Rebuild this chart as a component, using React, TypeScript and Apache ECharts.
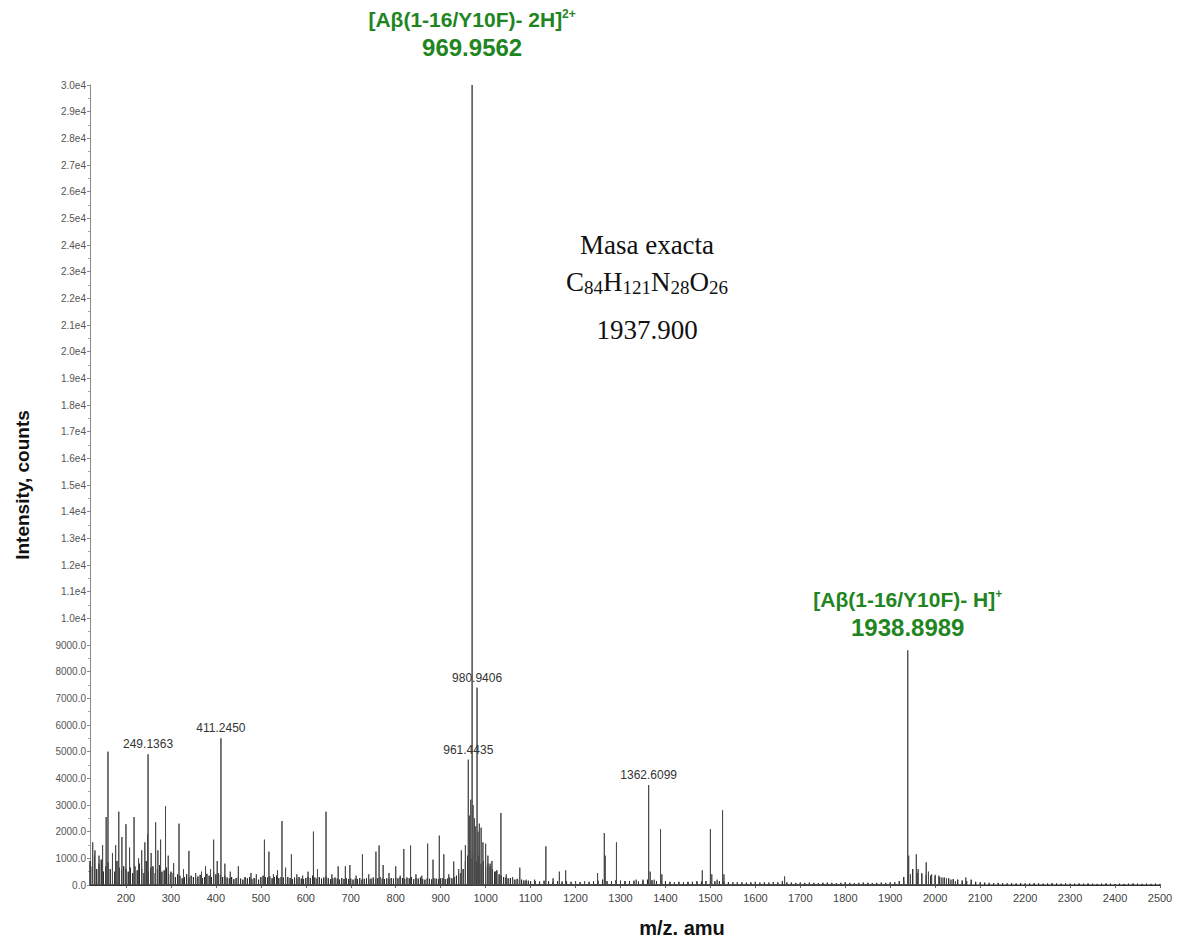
import React, { useEffect, useRef } from "react";
import * as echarts from "echarts";

// m/z tick labels on the horizontal axis
const mzTicks = [
  200, 300, 400, 500, 600, 700, 800, 900, 1000, 1100, 1200, 1300, 1400,
  1500, 1600, 1700, 1800, 1900, 2000, 2100, 2200, 2300, 2400, 2500,
];

// Intensity axis range (counts)
const intensityMax = 30000;
const intensityStep = 1000;

// Resolved peaks, [m/z, counts]
const lowMassPeaks: [number, number][] = [
  [126, 1600], [131, 1300], [140, 1100], [148, 1500], [156, 2550], [160, 5000],
  [170, 1200], [177, 1500], [184, 2750], [191, 1800], [200, 2280], [208, 1400],
  [218, 2550], [228, 1000], [235, 1300], [242, 1600], [248, 1900], [256, 1200],
  [266, 2350], [271, 1300], [277, 1700], [288, 2950], [294, 1100], [306, 820],
  [318, 2300], [328, 600], [340, 1280], [355, 450], [368, 500], [377, 700],
  [388, 600], [395, 1700], [403, 900], [420, 800], [432, 500], [450, 700],
  [465, 300], [478, 450], [490, 400], [508, 1700], [518, 1250], [528, 400],
  [537, 550], [547, 2400], [555, 650], [568, 1150], [580, 400], [593, 350],
  [605, 500], [617, 2000], [626, 600], [645, 2750], [658, 400], [672, 700],
  [688, 700], [698, 750], [712, 350], [726, 1150], [740, 400], [756, 1250],
  [763, 1480], [772, 750], [785, 450], [800, 700], [810, 350], [818, 1350],
  [833, 1480], [845, 400], [858, 350], [871, 1550], [883, 950], [897, 1850],
  [907, 1150], [918, 400], [929, 880], [940, 600], [946, 1300],
];

const clusterPeaks: [number, number][] = [
  [955, 1500], [964, 2600], [967, 3200], [972, 3000], [975, 2500], [978, 2200],
  [983, 2000], [986, 2300], [990, 2150], [994, 1600], [1000, 1550], [1005, 1100],
  [1010, 800], [1014, 900], [1022, 500], [1034, 2700], [1046, 400], [1060, 300],
  [1076, 650], [1090, 200], [1109, 200], [1134, 1450], [1150, 250], [1164, 500],
  [1178, 550], [1200, 150], [1220, 120], [1249, 450],
];

const highMassPeaks: [number, number][] = [
  [1264, 1950], [1266, 1100], [1291, 1600], [1310, 150], [1335, 200], [1350, 200],
  [1366, 500], [1375, 200], [1389, 2100], [1392, 400], [1420, 100], [1450, 120],
  [1470, 150], [1482, 550], [1500, 2100], [1503, 400], [1515, 200], [1527, 2800],
  [1530, 400], [1560, 100], [1600, 120], [1640, 100], [1665, 320], [1700, 80],
  [1750, 80], [1800, 100], [1850, 80], [1900, 90], [1930, 150], [1941, 1100],
  [1945, 400], [1958, 1150], [1962, 600], [1970, 450], [1980, 850], [1985, 500],
  [1992, 400], [2000, 380], [2008, 350], [2015, 280], [2025, 250], [2035, 200],
  [2045, 150], [2068, 280],
];

// Peaks annotated with their m/z
const labelledMz = [249.1363, 411.245, 961.4435, 980.9406, 1362.6099];
const labelledCounts = [4900, 5500, 4700, 7400, 3750];

// Assigned molecular ions
const ionMz = [969.9562, 1938.8989];
const ionCounts = [30000, 8800];
const ionNames = ["[Aβ(1-16/Y10F)- 2H]", "[Aβ(1-16/Y10F)- H]"];
const ionCharges = ["2+", "+"];

// Chemical noise, sampled every 5 m/z from 120 to 1100
const noiseLowStart = 120;
const noiseLowStep = 5;
const noiseLow = [
  900, 700, 1100, 600, 800, 950, 500, 700, 850, 600, 750, 500, 900, 650, 550, 700, 600,
  500, 650, 450, 700, 550, 800, 600, 450, 900, 500, 650, 700, 450, 600, 750, 500, 550, 650, 400, 500,
  450, 300, 400, 350, 250, 300, 400, 280, 350, 300, 250, 320, 380, 260, 300, 420, 350, 300, 500, 400,
  450, 380, 300, 350, 280, 250, 300, 220, 260, 300, 240, 200, 280, 250, 300, 220, 260, 240, 200, 300,
  350, 300, 280, 320, 250, 300, 350, 260, 300, 280, 240, 300, 260, 220, 280, 250, 300, 240, 220, 260,
  300, 260, 350, 280, 250, 300, 240, 280, 320, 260, 220, 250, 280, 240, 200, 260, 230, 250, 220, 240,
  200, 240, 220, 260, 200, 230, 250, 210, 240, 280, 220, 260, 300, 240, 220, 250, 230, 260, 240, 280,
  250, 300, 260, 230, 280, 250, 300, 220, 260, 240, 280, 220, 200, 250, 230, 210, 260, 240, 220, 250,
  260, 220, 240, 280, 250, 300, 350, 400, 450, 600, 900, 1100, 1300, 1000, 1200, 900, 1100, 800, 900, 700,
  800, 700, 600, 500, 550, 400, 350, 300, 280, 250, 260, 220, 200, 230, 180, 200, 170, 150, 160, 140,
];

// Chemical noise, sampled every 10 m/z from 1110 to 2500
const noiseHighStart = 1110;
const noiseHighStep = 10;
const noiseHigh = [
  150, 130, 160, 140, 120, 150, 130, 140, 120, 130,
  110, 130, 120, 140, 160, 200, 150, 140, 180, 160,
  140, 150, 160, 130, 150, 200, 180, 150, 170, 140,
  120, 110, 120, 100, 110, 120, 110, 130, 150, 160,
  140, 150, 120, 110, 100, 110, 100, 90, 100, 110,
  90, 100, 90, 110, 100, 140, 100, 90, 80, 90,
  80, 90, 80, 70, 80, 90, 80, 70, 80, 90,
  80, 70, 80, 90, 80, 70, 80, 90, 80, 90,
  100, 150, 300, 500, 600, 450, 400, 380, 350, 330,
  300, 280, 250, 220, 200, 170, 150, 200, 120, 100,
  90, 80, 70, 80, 70, 60, 70, 60, 70, 60,
  60, 70, 60, 50, 60, 70, 60, 50, 60, 50,
  50, 60, 50, 60, 50, 40, 50, 60, 50, 40,
  50, 40, 50, 60, 50, 40, 50, 40, 50, 40,
];

const GREEN = "#1f861f";
const SANS = "'Liberation Sans', Arial, Helvetica, sans-serif";
const SERIF = "'Liberation Serif', 'Times New Roman', serif";

// Turn [m/z, counts] pairs into a centroid stick trace
function sticks(pairs: [number, number][]): [number, number][] {
  const out: [number, number][] = [];
  for (const [mz, c] of pairs) {
    out.push([mz, 0], [mz, c], [mz, 0]);
  }
  return out;
}

function sampled(start: number, step: number, values: number[]): [number, number][] {
  return values.map((v, i) => [start + i * step, v] as [number, number]);
}

function formatIntensity(v: number): string {
  if (v >= 10000) return (v / 10000).toFixed(1) + "e4";
  return v.toFixed(1);
}

export default function App() {
  const ref = useRef<HTMLDivElement>(null);

  useEffect(() => {
    if (!ref.current) return;
    const chart = echarts.init(ref.current, undefined, { renderer: "svg" });

    const noisePairs = [
      ...sampled(noiseLowStart, noiseLowStep, noiseLow),
      ...sampled(noiseHighStart, noiseHighStep, noiseHigh),
    ];
    const labelledPairs = labelledMz.map((m, i) => [m, labelledCounts[i]] as [number, number]);
    const ionPairs = ionMz.map((m, i) => [m, ionCounts[i]] as [number, number]);
    const peakPairs = [...lowMassPeaks, ...clusterPeaks, ...highMassPeaks, ...labelledPairs, ...ionPairs];

    const ionLabelDistance = [24, 9];

    chart.setOption({
      animation: false,
      backgroundColor: "#ffffff",
      grid: { left: 90, right: 17, top: 85, bottom: 58 },
      xAxis: {
        type: "value",
        min: 120,
        max: 2500,
        axisLine: { show: true, lineStyle: { color: "#333", width: 1 } },
        axisTick: { show: true, customValues: mzTicks, length: 3, lineStyle: { color: "#666" } },
        axisLabel: {
          customValues: mzTicks,
          formatter: (v: number) => String(v),
          color: "#444",
          fontSize: 11,
          fontFamily: SANS,
          margin: 7,
        },
        splitLine: { show: false },
      },
      yAxis: {
        type: "value",
        min: 0,
        max: intensityMax,
        interval: intensityStep,
        axisLine: { show: true, lineStyle: { color: "#888", width: 1 } },
        axisTick: { show: true, length: 3, lineStyle: { color: "#888" } },
        minorTick: { show: true, splitNumber: 2, length: 2, lineStyle: { color: "#aaa" } },
        axisLabel: {
          formatter: formatIntensity,
          color: "#555",
          fontSize: 10,
          fontFamily: SANS,
          margin: 4,
        },
        splitLine: { show: false },
      },
      series: [
        {
          type: "line",
          name: "noise",
          data: sticks(noisePairs),
          showSymbol: false,
          symbol: "none",
          lineStyle: { color: "#2a2a2a", width: 1 },
          silent: true,
          z: 2,
        },
        {
          type: "line",
          name: "peaks",
          data: sticks(peakPairs),
          showSymbol: false,
          symbol: "none",
          lineStyle: { color: "#4a4a4a", width: 1 },
          silent: true,
          z: 3,
        },
        {
          type: "scatter",
          name: "peak labels",
          symbolSize: 0,
          itemStyle: { opacity: 1 },
          data: labelledPairs,
          label: {
            show: true,
            position: "top",
            distance: 4,
            color: "#333",
            fontSize: 12,
            fontFamily: SANS,
            formatter: (p: any) => p.value[0].toFixed(4),
          },
          z: 4,
        },
        {
          type: "scatter",
          name: "ions",
          symbolSize: 0,
          itemStyle: { opacity: 1 },
          data: ionPairs.map((v, i) => ({
            value: v,
            label: { distance: ionLabelDistance[i] },
          })),
          label: {
            show: true,
            position: "top",
            align: "center",
            formatter: (p: any) =>
              `{ion|${ionNames[p.dataIndex]}}{chg|${ionCharges[p.dataIndex]}}\n{num|${p.value[0].toFixed(4)}}`,
            rich: {
              ion: { fontSize: 21, fontWeight: "bold", color: GREEN, fontFamily: SANS, lineHeight: 28 },
              chg: {
                fontSize: 12,
                fontWeight: "bold",
                color: GREEN,
                fontFamily: SANS,
                lineHeight: 12,
                padding: [0, 0, 11, 0],
              },
              num: { fontSize: 24, fontWeight: "bold", color: GREEN, fontFamily: SANS, lineHeight: 28 },
            },
          },
          z: 5,
        },
      ],
      graphic: [
        {
          type: "text",
          x: 22,
          y: 485,
          rotation: Math.PI / 2,
          style: {
            text: "Intensity, counts",
            font: `bold 19px ${SANS}`,
            fill: "#111",
            align: "center",
            verticalAlign: "middle",
          },
        },
        {
          type: "text",
          x: 682,
          y: 928,
          style: {
            text: "m/z. amu",
            font: `bold 20px ${SANS}`,
            fill: "#111",
            align: "center",
            verticalAlign: "middle",
          },
        },
        {
          type: "text",
          x: 647,
          y: 245,
          style: {
            text: "Masa exacta",
            font: `27px ${SERIF}`,
            fill: "#111",
            align: "center",
            verticalAlign: "middle",
          },
        },
        {
          type: "text",
          x: 647,
          y: 282,
          style: {
            text: "{m|C}{s|84}{m|H}{s|121}{m|N}{s|28}{m|O}{s|26}",
            align: "center",
            verticalAlign: "middle",
            rich: {
              m: { fontSize: 27, fontFamily: SERIF, fill: "#111", lineHeight: 30 },
              s: { fontSize: 19, fontFamily: SERIF, fill: "#111", lineHeight: 30, verticalAlign: "bottom", padding: [12, 0, 0, 0] },
            },
          },
        },
        {
          type: "text",
          x: 647,
          y: 330,
          style: {
            text: "1937.900",
            font: `27px ${SERIF}`,
            fill: "#111",
            align: "center",
            verticalAlign: "middle",
          },
        },
      ],
    });

    return () => chart.dispose();
  }, []);

  return (
    <div
      ref={ref}
      style={{ position: "absolute", left: 0, top: 0, width: 1177, height: 943, background: "#fff" }}
    />
  );
}
